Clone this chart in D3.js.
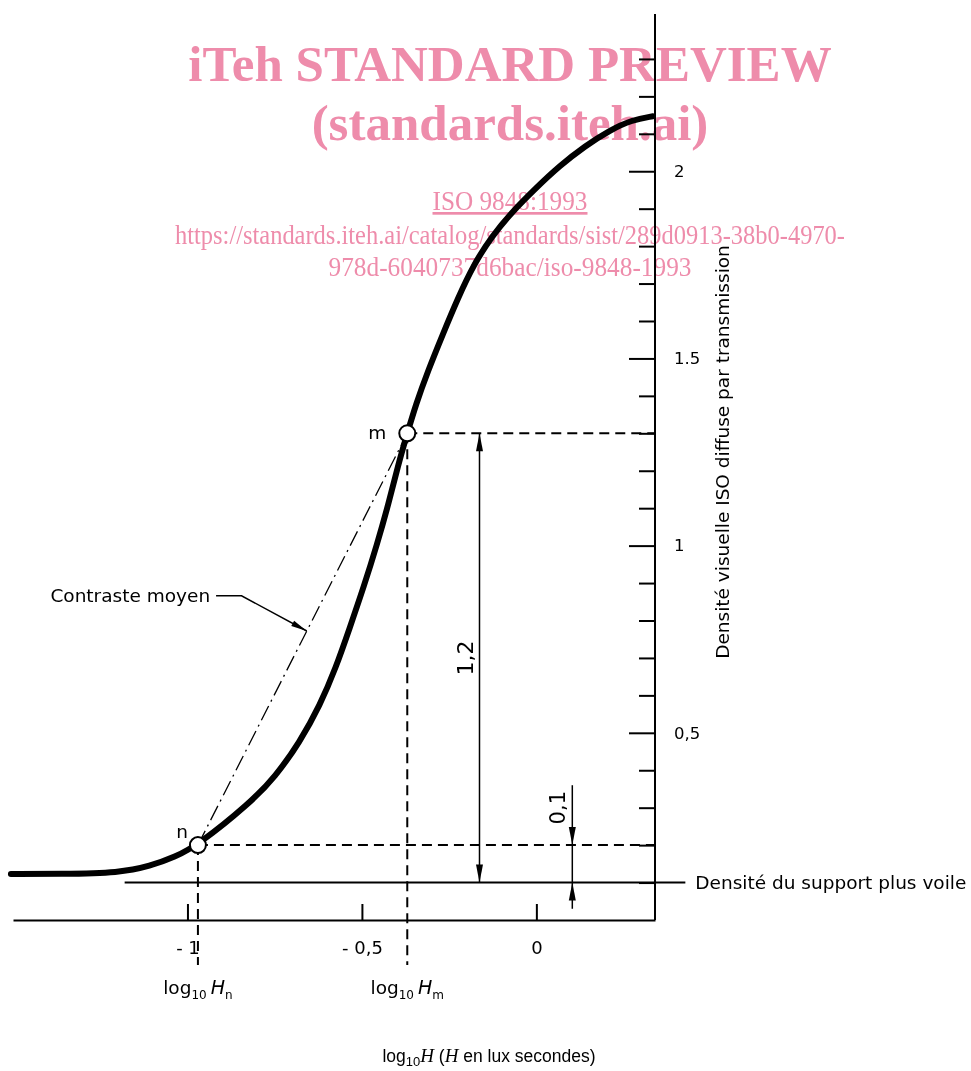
<!DOCTYPE html>
<html>
<head>
<meta charset="utf-8">
<script src="https://cdn.jsdelivr.net/npm/d3@7"></script>
<style>
  body { margin: 0; background: #fff; }
  svg { display: block; }
  .lbl { font-family: "DejaVu Sans", sans-serif; font-size: 18.5px; fill: #000; }
  .tk { font-family: "DejaVu Sans", sans-serif; font-size: 16.5px; fill: #000; }
  .tkx { font-family: "DejaVu Sans", sans-serif; font-size: 18px; fill: #000; }
  .wm { font-family: "Liberation Serif", "Times New Roman", serif; fill: #ee8cab; }
</style>
</head>
<body>
<svg id="chart"></svg>
<script>
// characteristic curve
const logH = [-1.506, -1.365, -1.193, -1.107, -1.036, -0.97, -0.821, -0.749, -0.678, -0.62,
  -0.575, -0.535, -0.494, -0.457, -0.423, -0.397, -0.37, -0.345, -0.311, -0.268, -0.225,
  -0.179, -0.127, -0.07, -0.004, 0.067, 0.139, 0.211, 0.274, 0.334];
const density = [0.123, 0.123, 0.126, 0.144, 0.168, 0.2, 0.312, 0.382, 0.475, 0.574,
  0.673, 0.78, 0.892, 1.002, 1.114, 1.213, 1.3, 1.378, 1.466, 1.565, 1.661,
  1.752, 1.827, 1.891, 1.953, 2.015, 2.067, 2.11, 2.137, 2.147];

const yTicks = [0.1, 0.2, 0.3, 0.4, 0.5, 0.6, 0.7, 0.8, 0.9, 1, 1.1, 1.2, 1.3, 1.4, 1.5,
  1.6, 1.7, 1.8, 1.9, 2, 2.1, 2.2, 2.3];
const yMajor = [0.5, 1, 1.5, 2];
const yTickLabels = ["0,5", "1", "1.5", "2"];
const xTicks = [-1, -0.5, 0];
const xTickLabels = ["- 1", "- 0,5", "0"];

const pointN = { logH: -0.97, d: 0.2, name: "n" };
const pointM = { logH: -0.37, d: 1.3, name: "m" };
const baseDensity = 0.1; // densité du support plus voile
const supportExtent = [-1.18, 0.427];
const dimX12 = -0.163; // "1,2" dimension
const dimX01 = 0.103;  // "0,1" dimension

class DensityChart {
  width = 971;
  height = 1071;

  constructor(svg) {
    this.svg = svg;
  }

  initialize() {
    this.svg = d3.select(this.svg)
      .attr("width", this.width)
      .attr("height", this.height);
    this.container = this.svg.append("g");
    this.xAxis = this.svg.append("g");
    this.yAxis = this.svg.append("g");
    this.notes = this.svg.append("g");
    this.watermark = this.svg.append("g").style("mix-blend-mode", "multiply");

    this.xScale = d3.scaleLinear().domain([-1.5, 0.34]).range([13, 655]);
    this.yScale = d3.scaleLinear().domain([0, 2.42]).range([920, 14]);
  }

  arrow(g, tx, ty, dx, dy, len = 18, half = 3.5) {
    // triangle with its tip at (tx,ty) pointing along (dx,dy)
    const n = Math.hypot(dx, dy);
    const ux = dx / n, uy = dy / n;
    const bx = tx - ux * len, by = ty - uy * len;
    g.append("path")
      .attr("d", `M${tx},${ty}L${bx - uy * half},${by + ux * half}L${bx + uy * half},${by - ux * half}Z`)
      .attr("fill", "#000");
  }

  update() {
    const x = this.xScale, y = this.yScale;
    const data = logH.map((v, i) => ({ logH: v, d: density[i] }));

    // support + fog line
    this.container.append("line")
      .attr("x1", x(supportExtent[0])).attr("x2", x(supportExtent[1]))
      .attr("y1", y(baseDensity)).attr("y2", y(baseDensity))
      .attr("stroke", "#000").attr("stroke-width", 2);

    // dashed reference lines
    const dashed = this.container.append("g")
      .attr("stroke", "#000").attr("stroke-width", 2).attr("stroke-dasharray", "10,6").attr("fill", "none");
    [pointN, pointM].forEach((p) => {
      dashed.append("line")
        .attr("x1", x(p.logH)).attr("x2", x(0.34))
        .attr("y1", y(p.d)).attr("y2", y(p.d));
      dashed.append("line")
        .attr("x1", x(p.logH)).attr("x2", x(p.logH))
        .attr("y1", y(p.d)).attr("y2", y(-0.12));
    });

    // mean contrast (dash-dot)
    this.container.append("line")
      .attr("x1", x(pointN.logH)).attr("y1", y(pointN.d))
      .attr("x2", x(pointM.logH)).attr("y2", y(pointM.d))
      .attr("stroke", "#000").attr("stroke-width", 1.3)
      .attr("stroke-dasharray", "16,5,2,5");

    // curve
    this.container.append("path")
      .datum(data)
      .attr("fill", "none")
      .attr("stroke", "#000")
      .attr("stroke-width", 6)
      .attr("stroke-linecap", "round")
      .attr("d", d3.line().x((d) => x(d.logH)).y((d) => y(d.d)).curve(d3.curveBasis));

    this.container.selectAll("circle")
      .data([pointN, pointM])
      .join("circle")
      .attr("cx", (d) => x(d.logH))
      .attr("cy", (d) => y(d.d))
      .attr("r", 8)
      .attr("fill", "#fff")
      .attr("stroke", "#000")
      .attr("stroke-width", 2);

    this.container.selectAll("text.pt")
      .data([pointN, pointM])
      .join("text")
      .attr("class", "pt lbl")
      .attr("x", (d) => x(d.logH) - (d.name === "n" ? 10 : 21))
      .attr("y", (d) => y(d.d) - (d.name === "n" ? 7 : -6))
      .attr("text-anchor", "end")
      .text((d) => d.name);

    // axes
    this.xAxis
      .attr("transform", `translate(0, ${y(0)})`)
      .call(d3.axisBottom(x).tickValues(xTicks).tickSize(-16).tickSizeOuter(0).tickPadding(21)
        .tickFormat((d, i) => xTickLabels[i]))
      .call((g) => g.attr("font-family", null).attr("font-size", null))
      .call((g) => g.selectAll("path, line").attr("stroke-width", 2))
      .call((g) => g.selectAll("text").attr("class", "tkx"));

    this.yAxis
      .attr("transform", `translate(${x(0.34)}, 0)`)
      .call(d3.axisRight(y).tickValues(yTicks).tickSize(-16).tickSizeOuter(0).tickPadding(19)
        .tickFormat((d) => {
          const i = yMajor.indexOf(d);
          return i < 0 ? "" : yTickLabels[i];
        }))
      .call((g) => g.attr("font-family", null).attr("font-size", null))
      .call((g) => g.selectAll("path, line").attr("stroke-width", 2))
      .call((g) => g.selectAll(".tick line").attr("x2", (d) => (yMajor.includes(d) ? -26 : -16)))
      .call((g) => g.selectAll("text").attr("class", "tk"));
    this.yAxis.select(".domain").attr("d", `M0,${y(0)}V${y(2.42)}`);

    this.notes.append("text")
      .attr("class", "lbl")
      .attr("transform", `translate(${x(0.34) + 74}, ${y(1.25)}) rotate(-90)`)
      .attr("text-anchor", "middle")
      .text("Densité visuelle ISO diffuse par transmission");

    this.notes.append("text")
      .attr("class", "lbl")
      .attr("x", x(supportExtent[1]) + 10)
      .attr("y", y(baseDensity))
      .attr("dy", "0.35em")
      .text("Densité du support plus voile");

    // "1,2" dimension
    const dim = this.notes.append("g");
    dim.append("line")
      .attr("x1", x(dimX12)).attr("x2", x(dimX12))
      .attr("y1", y(pointM.d)).attr("y2", y(baseDensity))
      .attr("stroke", "#000").attr("stroke-width", 1.5);
    this.arrow(dim, x(dimX12), y(pointM.d), 0, -1);
    this.arrow(dim, x(dimX12), y(baseDensity), 0, 1);
    dim.append("text")
      .attr("class", "lbl")
      .style("font-size", "22px")
      .attr("transform", `translate(${x(dimX12) - 6}, ${y((pointM.d + baseDensity) / 2)}) rotate(-90)`)
      .attr("text-anchor", "middle")
      .text("1,2");

    // "0,1" dimension
    dim.append("line")
      .attr("x1", x(dimX01)).attr("x2", x(dimX01))
      .attr("y1", y(0.36)).attr("y2", y(0.03))
      .attr("stroke", "#000").attr("stroke-width", 1.5);
    this.arrow(dim, x(dimX01), y(pointN.d), 0, 1);
    this.arrow(dim, x(dimX01), y(baseDensity), 0, -1);
    dim.append("text")
      .attr("class", "lbl")
      .style("font-size", "21px")
      .attr("transform", `translate(${x(dimX01) - 7}, ${y(0.3)}) rotate(-90)`)
      .attr("text-anchor", "middle")
      .text("0,1");

    // Contraste moyen leader
    const t = 0.52;
    const tip = [
      x(pointN.logH + t * (pointM.logH - pointN.logH)),
      y(pointN.d + t * (pointM.d - pointN.d)),
    ];
    const knee = [x(-0.845), y(0.866)];
    this.notes.append("path")
      .attr("d", `M${x(-0.918)},${knee[1]}H${knee[0]}L${tip[0]},${tip[1]}`)
      .attr("fill", "none").attr("stroke", "#000").attr("stroke-width", 1.5);
    this.arrow(this.notes, tip[0], tip[1], tip[0] - knee[0], tip[1] - knee[1], 16, 3);
    this.notes.append("text")
      .attr("class", "lbl")
      .attr("x", x(-0.935)).attr("y", knee[1])
      .attr("dy", "0.35em")
      .attr("text-anchor", "end")
      .text("Contraste moyen");

    // log10 Hn / log10 Hm
    [pointN, pointM].forEach((p) => {
      const tx = this.notes.append("text")
        .attr("class", "lbl")
        .attr("x", x(p.logH)).attr("y", 994)
        .attr("text-anchor", "middle");
      tx.append("tspan").text("log");
      tx.append("tspan").style("font-size", "12px").attr("dy", 5).text("10");
      tx.append("tspan").attr("dy", -5).attr("dx", 4).attr("font-style", "italic").style("font-size", "19px").text("H");
      tx.append("tspan").style("font-size", "12px").attr("dy", 5).text(p.name);
    });

    // x title
    const xt = this.notes.append("text")
      .attr("x", 489).attr("y", 1062)
      .attr("text-anchor", "middle")
      .attr("font-family", "Liberation Sans, Arial, sans-serif")
      .attr("font-size", 17.5);
    xt.append("tspan").text("log");
    xt.append("tspan").attr("font-size", 13).attr("dy", 4).text("10");
    xt.append("tspan").attr("dy", -4).attr("font-size", 19).attr("font-family", "Liberation Serif, serif").attr("font-style", "italic").text("H");
    xt.append("tspan").text(" (");
    xt.append("tspan").attr("font-size", 19).attr("font-family", "Liberation Serif, serif").attr("font-style", "italic").text("H");
    xt.append("tspan").text(" en lux secondes)");

    // watermark
    const wm = [
      { text: "iTeh STANDARD PREVIEW", y: 81, size: 51, bold: true },
      { text: "(standards.iteh.ai)", y: 140, size: 51, bold: true },
      { text: "ISO 9848:1993", y: 210, size: 27, len: 155, underline: true },
      { text: "https://standards.iteh.ai/catalog/standards/sist/289d0913-38b0-4970-", y: 244, size: 28, len: 670 },
      { text: "978d-6040737d6bac/iso-9848-1993", y: 276, size: 28, len: 363 },
    ];
    this.watermark.selectAll("text")
      .data(wm)
      .join("text")
      .attr("class", "wm")
      .attr("x", 510)
      .attr("y", (d) => d.y)
      .attr("text-anchor", "middle")
      .attr("font-size", (d) => d.size)
      .attr("font-weight", (d) => (d.bold ? "bold" : "normal"))
      .attr("text-decoration", (d) => (d.underline ? "underline" : null))
      .attr("textLength", (d) => d.len || null)
      .attr("lengthAdjust", "spacingAndGlyphs")
      .text((d) => d.text);
  }
}

const chart = new DensityChart(document.getElementById("chart"));
chart.initialize();
chart.update();
</script>
</body>
</html>
